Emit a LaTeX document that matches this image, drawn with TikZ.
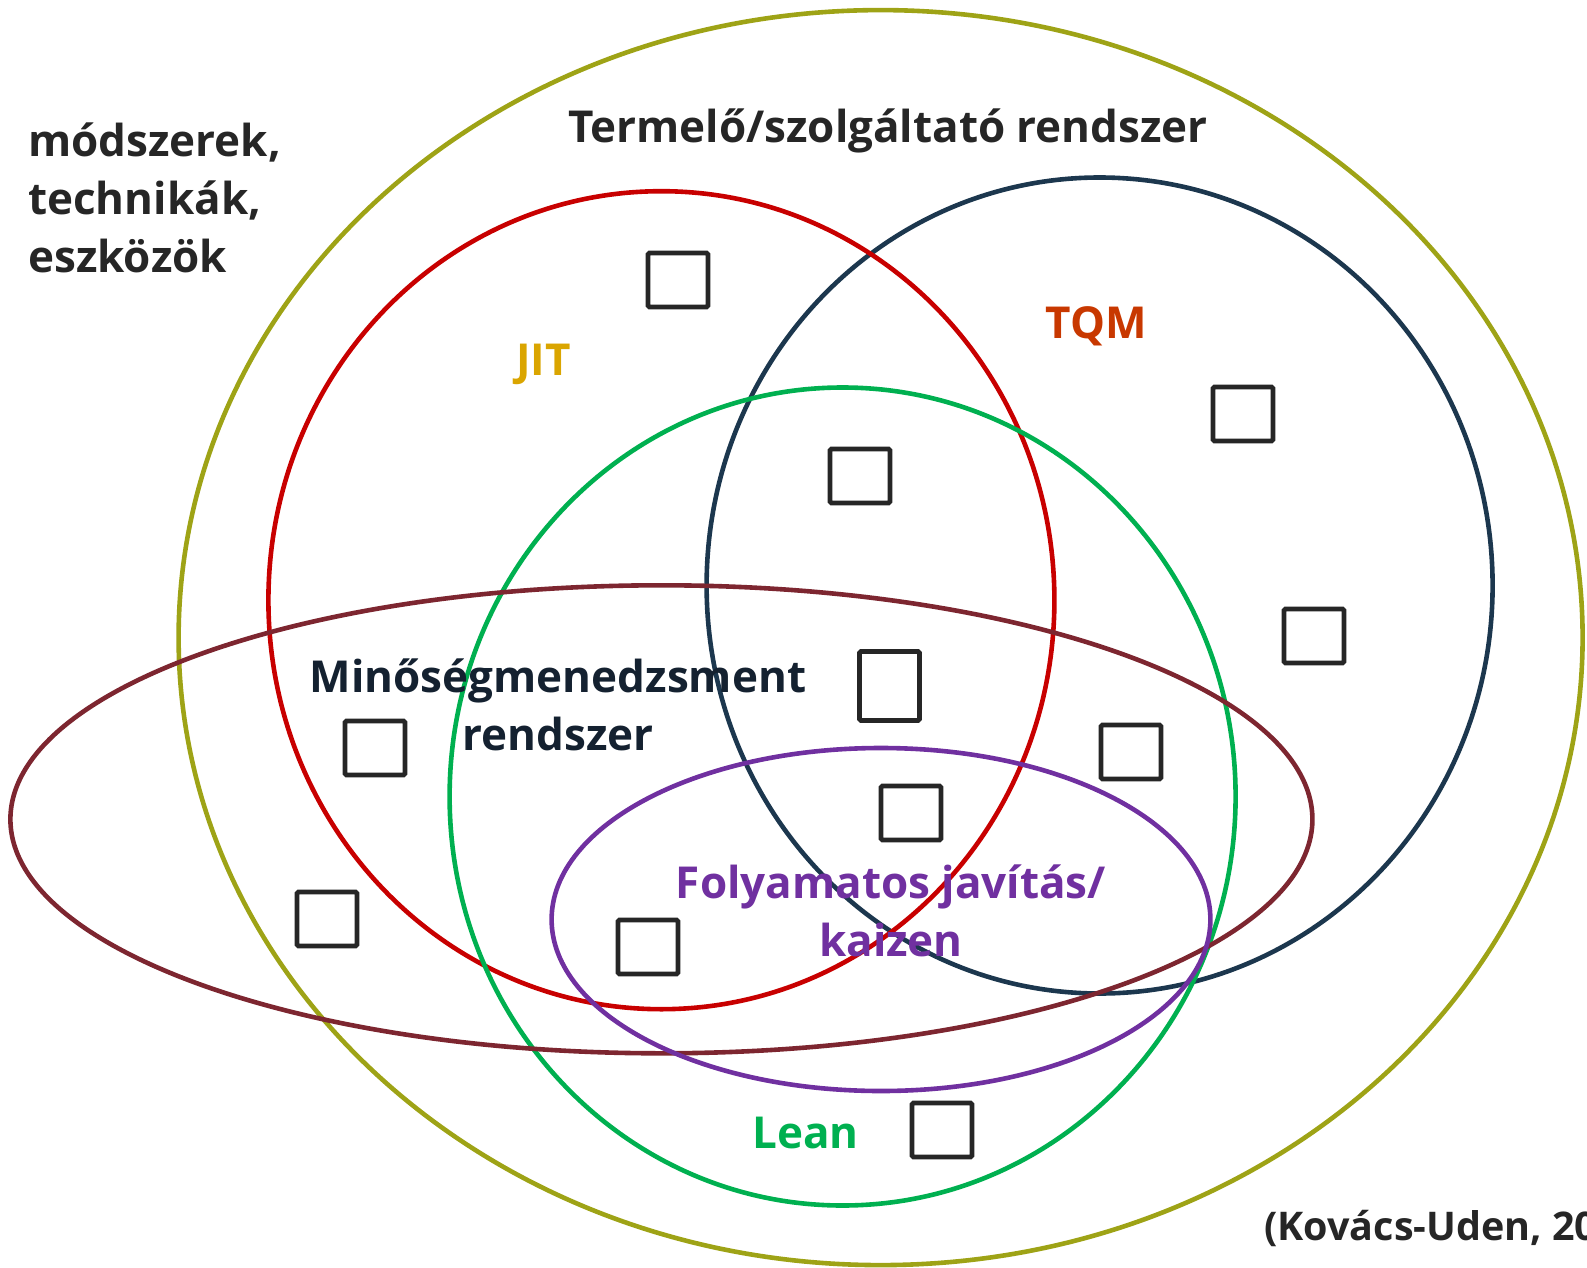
\documentclass[tikz,border=0pt]{standalone}
\usepackage{fontspec}
\setmainfont{Open Sans}
\usepackage{tikz}
\pgfdeclarelayer{edgelayer}
\pgfdeclarelayer{nodelayer}
\pgfsetlayers{edgelayer,nodelayer,main}
\definecolor{olive}{RGB}{158,163,22}
\definecolor{jitred}{RGB}{200,0,0}
\definecolor{tqmnavy}{RGB}{28,55,78}
\definecolor{leangreen}{RGB}{0,176,80}
\definecolor{qmbrown}{RGB}{125,38,48}
\definecolor{kaizen}{RGB}{112,48,160}
\definecolor{jitgold}{RGB}{218,165,0}
\definecolor{tqmorange}{RGB}{200,56,0}
\definecolor{inkdark}{RGB}{38,38,38}
\definecolor{qmnavy}{RGB}{20,33,48}
\tikzstyle{ring}=[line width=4.6pt]
\tikzstyle{tool}=[draw=inkdark, line width=4.8pt, rounded corners=1.5pt, minimum width=60pt, minimum height=54pt, inner sep=0pt]
\tikzstyle{label}=[font=\bfseries\fontsize{44}{58}\selectfont, inner sep=0pt, align=center]

\begin{document}
\begin{tikzpicture}[x=1pt, y=-1pt]
				\useasboundingbox (0, 0) rectangle (1587, 1268);
				\begin{pgfonlayer}{edgelayer}
					\draw [style=ring, olive] (880.6, 637.6) ellipse (702 and 627.5);
					\draw [style=ring, tqmnavy] (1099.6, 585.5) ellipse (393 and 408);
					\draw [style=ring, jitred] (661.4, 600.2) ellipse (393 and 409);
					\draw [style=ring, leangreen] (842.6, 796.5) ellipse (393 and 409);
					\draw [style=ring, qmbrown] (661.4, 819.3) ellipse (651 and 234);
					\draw [style=ring, kaizen] (881, 919.5) ellipse (329.4 and 171.5);
				\end{pgfonlayer}
				\begin{pgfonlayer}{nodelayer}
					\node [style=tool] (t1) at (678, 280) {};
					\node [style=tool] (t2) at (860, 476) {};
					\node [style=tool] (t3) at (1243, 414) {};
					\node [style=tool] (t4) at (1314, 636) {};
					\node [style=tool, minimum height=69pt] (t5) at (889.5, 686) {};
					\node [style=tool] (t6) at (1131, 752) {};
					\node [style=tool] (t7) at (375, 748) {};
					\node [style=tool] (t8) at (911, 813) {};
					\node [style=tool] (t9) at (327, 919) {};
					\node [style=tool] (t10) at (648, 947) {};
					\node [style=tool] (t11) at (942, 1130) {};
					\node [style=label, align=left, anchor=west, text=inkdark] (methods) at (28, 198) {módszerek,\\technikák,\\eszközök};
					\node [style=label, text=inkdark] (system) at (888, 130.5) {Termelő/szolgáltató rendszer};
					\node [style=label, text=jitgold] (jit) at (543.5, 364) {JIT};
					\node [style=label, text=tqmorange] (tqm) at (1096, 326) {TQM};
					\node [style=label, text=qmnavy] (qm) at (558, 705) {Minőségmenedzsment\\rendszer};
					\node [style=label, text=kaizen] (ci) at (891, 911) {Folyamatos javítás/\\kaizen};
					\node [style=label, text=leangreen] (lean) at (805.6, 1132.5) {Lean};
					\node [style=label, font=\bfseries\fontsize{39.5}{48}\selectfont, anchor=west, text=inkdark] (source) at (1264, 1228) {(Kovács-Uden, 20};
				\end{pgfonlayer}
			\end{tikzpicture}
\end{document}
